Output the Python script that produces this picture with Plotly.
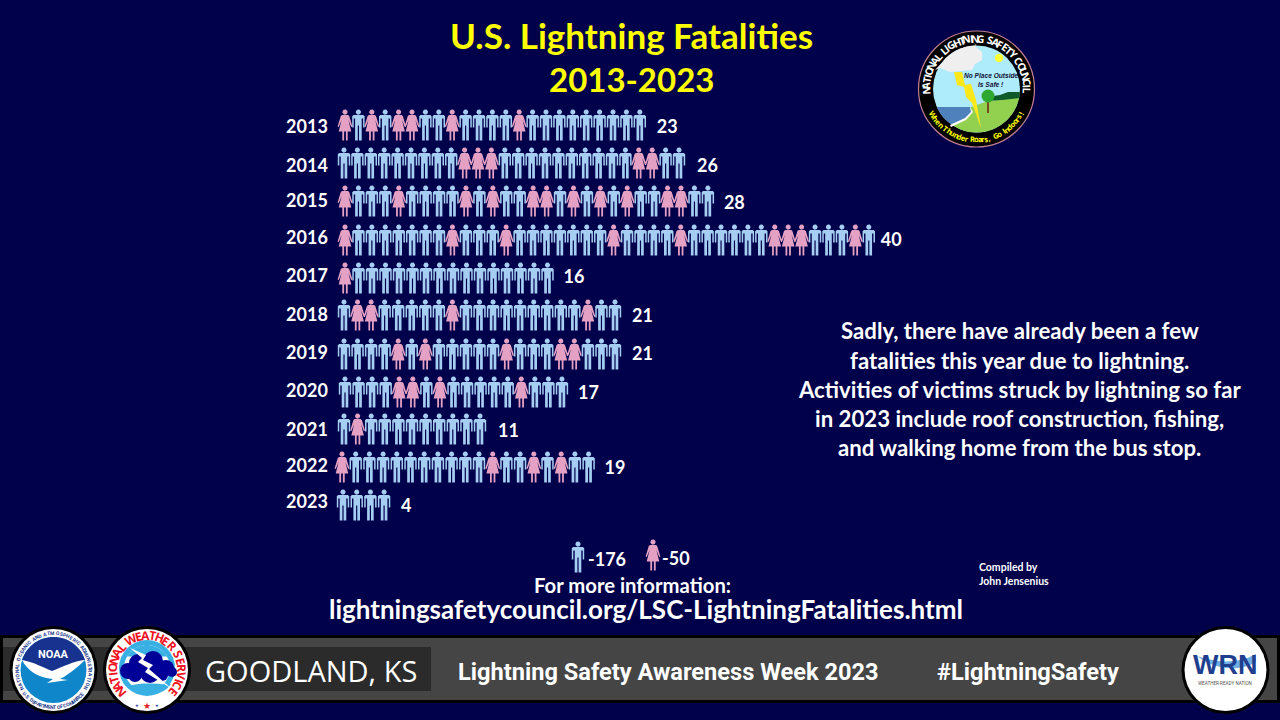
import math
import plotly.graph_objects as go

# ---------- data ----------
years = [2013, 2014, 2015, 2016, 2017, 2018, 2019, 2020, 2021, 2022, 2023]
counts = [23, 26, 28, 40, 16, 21, 21, 17, 11, 19, 4]
female_positions = [
    [0, 2, 4, 5, 8, 13],
    [9, 10, 11, 22, 23],
    [0, 4, 9, 11, 14, 15, 17, 19, 21, 24, 25],
    [0, 8, 12, 20, 25, 32, 33, 34, 38],
    [0],
    [1, 2, 8, 18],
    [4, 6, 12, 16, 17],
    [4, 5, 7, 13],
    [1],
    [0, 11, 14, 16],
    [],
]
legend_labels = ["-176", "-50"]

# ---------- layout constants (pixels) ----------
W, H = 1280, 720
BG = "#00004B"
MALE = "#A6CEF2"
FEMALE = "#E5A1C3"
X0, PITCH = 345.0, 13.45
Y0, ROW = 125.0, 38.0
row_start = [345, 344, 345, 345, 345, 344, 344, 345, 344, 342, 343]
row_pitch = [13.4, 13.4, 13.44, 13.43, 13.5, 13.55, 13.55, 13.56, 13.6, 13.7, 13.7]
row_dy = [0, 0, 0, 1, 1, 0, 1, 1, 0, 0, 0]
year_label_dy = [3, 4, 1, 0, 0, 1, 1, 1, 2, 0, -2]
value_label_dy = [3, 4, 3, 2, 1, 2, 2, 3, 3, 2, 2]
value_label_dx = [1, 2, 0, -4, 0, 1, 1, 0, 2, 0, 1]
TITLE_F = "Lato"
BODY_F = "Lato"


def dx(px):
    return (px - X0) / PITCH


def dy(py):
    return 2013 + (py - Y0) / ROW


def circle_pts(cx, cy, r, n=18):
    return [(cx + r * math.cos(2 * math.pi * k / n), cy + r * math.sin(2 * math.pi * k / n)) for k in range(n)]


MALE_BODY = [(-4.9, -10), (4.9, -10), (6.2, -8.7), (6.2, 2.5), (4.7, 2.5), (4.7, -6.5), (3.3, -6.5), (3.3, 15.5),
             (0.6, 15.5), (0.6, 0.5), (-0.6, 0.5), (-0.6, 15.5), (-3.3, 15.5), (-3.3, -6.5), (-4.7, -6.5),
             (-4.7, 2.5), (-6.2, 2.5), (-6.2, -8.7)]
FEMALE_BODY = [(-3, -10), (3, -10), (4.2, -9), (7.4, 1.5), (6.2, 2), (3.4, -5), (6.3, 6.5), (2.7, 6.5),
               (2.7, 15.5), (0.9, 15.5), (0.9, 6.5), (-0.9, 6.5), (-0.9, 15.5), (-2.7, 15.5), (-2.7, 6.5),
               (-6.3, 6.5), (-3.4, -5), (-6.2, 2), (-7.4, 1.5), (-4.2, -9)]
HEAD = circle_pts(0, -12.9, 2.6)


def add_person(xs, ys, cx, cy, body):
    for poly_ in (body, HEAD):
        for px, py in poly_ + [poly_[0]]:
            xs.append(dx(cx + px))
            ys.append(dy(cy + py))
        xs.append(None)
        ys.append(None)


mx, my, fx, fy = [], [], [], []
for r, (yr, n, fem) in enumerate(zip(years, counts, female_positions)):
    cy = Y0 + ROW * (yr - 2013) + row_dy[r]
    for i in range(n):
        cx = row_start[r] + i * row_pitch[r]
        if i in fem:
            add_person(fx, fy, cx, cy, FEMALE_BODY)
        else:
            add_person(mx, my, cx, cy, MALE_BODY)
# legend figures
add_person(mx, my, 578, 557, MALE_BODY)
add_person(fx, fy, 653, 555, FEMALE_BODY)

fig = go.Figure()
fig.add_trace(go.Scatter(x=mx, y=my, mode="lines", fill="toself", fillcolor=MALE,
                         line=dict(width=0, color=MALE), hoverinfo="skip", name="Male"))
fig.add_trace(go.Scatter(x=fx, y=fy, mode="lines", fill="toself", fillcolor=FEMALE,
                         line=dict(width=0, color=FEMALE), hoverinfo="skip", name="Female"))
fig.add_trace(go.Scatter(
    x=[dx(307)] * len(years),
    y=[yr + d / ROW for yr, d in zip(years, year_label_dy)],
    text=[str(y) for y in years], mode="text", textposition="middle center",
    textfont=dict(family=BODY_F, size=18, color="white", weight="bold"), hoverinfo="skip"))
fig.add_trace(go.Scatter(
    x=[dx(row_start[r] + (counts[r] - 1) * row_pitch[r] + 16 + value_label_dx[r]) for r in range(len(years))],
    y=[yr + d / ROW for yr, d in zip(years, value_label_dy)],
    text=[str(c) for c in counts], mode="text", textposition="middle right",
    textfont=dict(family=BODY_F, size=18, color="white", weight="bold"), hoverinfo="skip"))

shapes, annos = [], []


def PX(x):
    return x / W


def PY(y):
    return 1 - y / H


def rect(x0, y0, x1, y1, color):
    shapes.append(dict(type="rect", xref="paper", yref="paper", x0=PX(x0), x1=PX(x1), y0=PY(y0), y1=PY(y1),
                       fillcolor=color, line=dict(width=0), layer="below"))


def disc(cx, cy, r, color, line=None, lw=0):
    shapes.append(dict(type="circle", xref="paper", yref="paper", x0=PX(cx - r), x1=PX(cx + r),
                       y0=PY(cy + r), y1=PY(cy - r), fillcolor=color,
                       line=dict(width=lw, color=line or color), layer="below"))


def path(cmds, color):
    """cmds: list of (letter, x, y, ...) in pixel coordinates."""
    s = ""
    for c in cmds:
        s += c[0]
        vals = c[1:]
        pts = [f"{PX(vals[k])},{PY(vals[k + 1])}" for k in range(0, len(vals), 2)]
        s += " ".join(pts) + " "
    s += "Z"
    shapes.append(dict(type="path", xref="paper", yref="paper", path=s, fillcolor=color,
                       line=dict(width=0), layer="below"))


def poly(pts, color):
    path([("M",) + pts[0]] + [("L",) + p for p in pts[1:]], color)


def arc(cx, cy, r, a0, a1, n=30):
    """points on a circle, angles in degrees clockwise from top"""
    out = []
    for k in range(n + 1):
        a = math.radians(a0 + (a1 - a0) * k / n)
        out.append((cx + r * math.sin(a), cy - r * math.cos(a)))
    return out


def text(x, y, s, size, color="white", family=BODY_F, bold=True, anchor="center", angle=0, italic=False):
    t = s
    if bold:
        t = f"<b>{t}</b>"
    if italic:
        t = f"<i>{t}</i>"
    annos.append(dict(xref="paper", yref="paper", x=PX(x), y=PY(y), text=t, showarrow=False,
                      xanchor=anchor, yanchor="middle", textangle=angle,
                      font=dict(family=family, size=size, color=color)))


NARROW = set("Iil.,!' tfrJ")
WIDE = set("MWOGQmw")


def arc_text(s, cx, cy, r, a0, a1, size, color, family="Open Sans", bottom=False):
    w = [0.55 if c in NARROW else (1.3 if c in WIDE else 1.0) for c in s]
    tot = sum(w)
    acc = 0
    for c, wi in zip(s, w):
        acc += wi / 2
        a = a0 + (a1 - a0) * acc / tot
        acc += wi / 2
        if c == " ":
            continue
        ra = math.radians(a)
        x = cx + r * math.sin(ra)
        y = cy - r * math.cos(ra)
        text(x, y, c, size, color, family, True, "center", (a + 180 if bottom else a))


# ---------- footer band ----------
rect(0, 635, 1280, 703, "#000000")
rect(3, 638, 1277, 700, "#454545")
rect(3, 647, 431, 691, "#2B2B2B")
text(311, 670, "GOODLAND, KS", 29, "white", "Open Sans", False)
text(668, 672, "Lightning Safety Awareness Week 2023", 23.6, "white", "Roboto")
text(1027.5, 672, "#LightningSafety", 23.6, "white", "Roboto")

# NOAA logo
disc(53.5, 670, 44, "#000000")
disc(53.5, 670, 41, "#FFFFFF")
disc(53.5, 670, 33, "#0E86C9")
poly(arc(53.5, 670, 33, -72, 72) + [(53.5, 672)], "#17338F")
path([("M", 22, 660), ("C", 34, 662, 44, 668, 52, 671), ("C", 62, 667, 74, 661, 85, 660),
      ("C", 77, 668, 66, 676, 60, 679), ("L", 68, 680), ("L", 47, 683), ("L", 53, 679),
      ("C", 38, 678, 27, 670, 22, 660)], "#FFFFFF")
text(53.5, 654, "NOAA", 11, "white", "Roboto")
arc_text("NATIONAL OCEANIC AND ATMOSPHERIC ADMINISTRATION", 53.5, 670, 37, -122, 122, 5, "#1B3A8C", "Roboto")
arc_text("U.S. DEPARTMENT OF COMMERCE", 53.5, 670, 37, 232, 128, 5, "#1B3A8C", "Roboto", bottom=True)

# NWS logo
disc(147, 670, 44, "#000000")
disc(147, 670, 41, "#FFFFFF")
disc(147, 668, 28, "#38B0E4")
disc(147, 668, 23, "#FFFFFF")
poly(arc(147, 668, 23, -60, 60), "#38B0E4")
for c_x, c_y, c_r in [(128, 671, 8), (138, 663, 9), (153, 661, 10), (166, 668, 8), (172, 672, 5),
                      (150, 673, 10), (135, 675, 7), (162, 675, 6)]:
    disc(c_x, c_y, c_r, "#000099")
path([("M", 129, 686), ("C", 145, 681, 160, 685, 171, 684), ("C", 163, 697, 140, 697, 129, 686)], "#38B0E4")
poly([(130, 648), (146, 655), (143, 660), (153, 665), (149, 669), (172, 689), (145, 672), (148, 668),
      (138, 662), (142, 658)], "#FFFFFF")
arc_text("NATIONAL WEATHER SERVICE", 147, 670, 34.5, -136, 136, 12, "#F01020", "Open Sans")
text(147, 706, "★", 9, "#E02020", "DejaVu Sans", False)
text(137, 705, "★", 4, "#1020A0", "DejaVu Sans", False)
text(157, 705, "★", 4, "#1020A0", "DejaVu Sans", False)

# WRN logo
disc(1225.5, 670, 44, "#000000")
disc(1225.5, 670, 41, "#FFFFFF")
text(1224.5, 665, "WRN", 27, "#1F3E8E", "Liberation Sans")
path([("M", 1197, 656), ("C", 1215, 662, 1235, 665, 1256, 654), ("L", 1256, 662),
      ("C", 1240, 672, 1215, 670, 1197, 656)], "#6FAEE3")
text(1225, 683, "WEATHER-READY NATION", 4.6, "#555555", "Roboto", False)

# National Lightning Safety Council logo
NX, NY = 976.5, 89
IR = 43.5
disc(NX, NY, 58, "#000000", "#C08090", 1.2)
disc(NX, NY, IR, "#AEEBFB")
# grass
poly(arc(NX, NY, IR, 100, 216) + [(966, 119), (971, 107), (985, 102), (1002, 99), (1019, 97)], "#92D050")
# hills
poly([(1019.5, 98), (1019.8, 92), (1008, 92), (1000, 95), (993, 96), (985, 101), (1002, 100)], "#0F5A2A")
# water
poly(arc(NX, NY, IR, 216, 245.5) + [(970, 107), (972, 112), (965, 119)], "#4F81BD")
path([("M", 970, 107), ("L", 973, 112), ("L", 966, 120), ("L", 951, 127), ("L", 950, 125), ("L", 965, 118),
      ("L", 971, 112)], "#FFFFFF")
# cloud
poly(arc(NX, NY, IR, -52, 0) + [(974, 43), (977, 48), (982, 52), (982, 60), (975, 64), (972, 70),
                                 (950, 72), (940, 68), (935, 70)], "#EFEFEF")
# sun
disc(999, 58, 4, "#FFFF33")
# bolt
poly([(954, 72), (962, 72), (965, 85), (971, 84), (976, 100), (981, 128), (972, 103), (966, 97), (964, 87),
      (957, 85)], "#FFE81A")
# tree
rect(987, 100, 989, 113, "#7A4A1E")
disc(988, 96, 6.5, "#2EA82E")
text(991, 76, "No Place Outside", 6.6, "#111133", "Liberation Sans", True, italic=True)
text(991, 84.5, "Is Safe !", 6.6, "#111133", "Liberation Sans", True, italic=True)
arc_text("NATIONAL LIGHTNING SAFETY COUNCIL", NX, NY, 50.5, -95, 95, 10.5, "#FFFFFF", "Open Sans")
arc_text("When Thunder Roars, Go Indoors!", NX, NY, 50.5, 242, 118, 7.5, "#FFFF00", "Open Sans", bottom=True)

# ---------- texts ----------
text(631, 35, "U.S. Lightning Fatalities", 35, "#FFFF00", TITLE_F)
text(631, 79, "2013-2023", 33, "#FFFF00", TITLE_F)
body_lines = ["Sadly, there have already been a few",
              "fatalities this year due to lightning.",
              "Activities of victims struck by lightning so far",
              "in 2023 include roof construction, fishing,",
              "and walking home from the bus stop."]
for k, line in enumerate(body_lines):
    text(1019.5, 331 + 29 * k, line, 22.2, "white", BODY_F)
text(586, 559, legend_labels[0], 18, "white", BODY_F, anchor="left")
text(660, 558, legend_labels[1], 18, "white", BODY_F, anchor="left")
text(632, 585, "For more information:", 20.3, "white", BODY_F)
text(646, 609, "lightningsafetycouncil.org/LSC-LightningFatalities.html", 26, "white", BODY_F)
text(977, 567, "Compiled by", 10.5, "white", BODY_F, anchor="left")
text(977, 581, "John Jensenius", 10.5, "white", BODY_F, anchor="left")

fig.update_layout(
    width=W, height=H, margin=dict(l=0, r=0, t=0, b=0), showlegend=False,
    paper_bgcolor=BG, plot_bgcolor=BG,
    xaxis=dict(range=[dx(0), dx(W)], visible=False, fixedrange=True),
    yaxis=dict(range=[dy(H), dy(0)], visible=False, fixedrange=True),
    shapes=shapes, annotations=annos,
)
fig.write_html("out.html", config=dict(displayModeBar=False),
               post_script="document.body.style.margin='0';document.body.style.background='%s';" % BG)
